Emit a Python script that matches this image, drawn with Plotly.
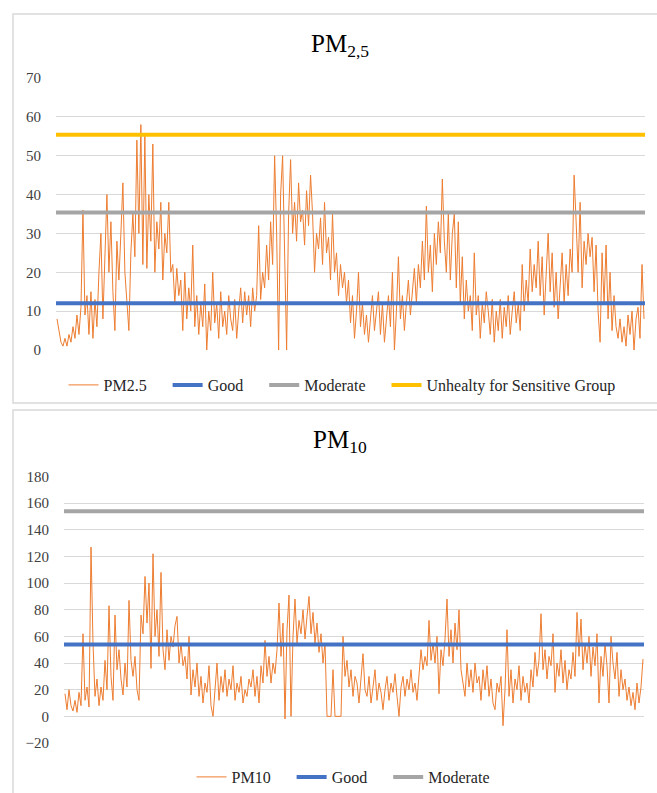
import plotly.graph_objects as go

# ---------------- data ----------------
pm25 = [
    8, 5, 2, 1, 3, 1, 4, 2, 6, 3, 9, 4, 11, 36, 9, 14, 4, 15, 3, 13,
    6, 20, 30, 8, 22, 40, 20, 33, 15, 5, 28, 18, 30, 43, 20, 12, 5, 25, 35, 24,
    54, 30, 58, 22, 55, 21, 40, 28, 53, 20, 33, 26, 38, 18, 30, 25, 38, 20, 22, 12,
    21, 14, 18, 5, 20, 8, 16, 10, 27, 6, 14, 4, 12, 6, 17, 0, 10, 5, 20, 7,
    12, 3, 15, 6, 10, 4, 14, 8, 5, 13, 3, 10, 16, 7, 15, 9, 14, 6, 16, 10,
    14, 32, 13, 20, 16, 27, 18, 33, 22, 50, 30, 0, 40, 50, 28, 0, 35, 49, 30, 38,
    28, 43, 33, 36, 27, 41, 32, 45, 35, 20, 30, 26, 34, 22, 38, 25, 29, 18, 35, 20,
    25, 14, 22, 16, 20, 12, 18, 7, 14, 3, 10, 20, 6, 12, 4, 9, 2, 8, 14, 5,
    10, 15, 4, 12, 2, 9, 14, 6, 20, 0, 10, 24, 8, 14, 5, 12, 18, 9, 15, 21,
    12, 22, 16, 28, 18, 37, 20, 27, 15, 30, 22, 33, 25, 44, 28, 20, 35, 18, 30, 35,
    16, 33, 12, 24, 8, 18, 10, 14, 5, 25, 9, 14, 3, 12, 7, 15, 10, 4, 13, 2,
    10, 5, 13, 3, 11, 6, 14, 4, 10, 15, 7, 12, 5, 22, 10, 18, 12, 26, 15, 22,
    16, 28, 14, 24, 9, 20, 30, 15, 25, 11, 20, 8, 17, 25, 12, 22, 14, 26, 20, 45,
    33, 20, 38, 16, 28, 22, 30, 24, 29, 15, 27, 10, 2, 25, 12, 27, 8, 20, 5, 14,
    6, 3, 8, 2, 6, 1, 9, 4, 10, 0, 8, 11, 3, 22, 8,
]

pm10 = [
    17, 5, 20, 8, 4, 12, 3, 18, 8, 62, 12, 22, 7, 127, 55, 15, 28, 8, 22, 12,
    42, 20, 83, 30, 12, 76, 35, 50, 28, 16, 40, 22, 87, 42, 30, 45, 20, 12, 76, 62,
    105, 70, 100, 36, 122, 60, 80, 45, 108, 50, 35, 65, 42, 60, 52, 68, 75, 40, 55, 38,
    45, 28, 60, 16, 35, 22, 40, 15, 30, 10, 25, 18, 38, 8, 0, 22, 40, 12, 30, 18,
    35, 15, 28, 20, 38, 12, 25, 18, 30, 10, 20, 15, 28, 22, 35, 15, 30, 10, 38, 25,
    57, 30, 45, 25, 40, 32, 50, 85, 45, 70, -2, 65, 91, 0, 60, 88, 55, 72, 62, 80,
    58, 75, 90, 62, 78, 55, 70, 48, 62, 40, 55, 0, 0, 0, 35, 0, 0, 0, 0, 60,
    30, 42, 22, 35, 15, 30, 25, 10, 28, 47, 20, 15, 30, 10, 22, 35, 12, 25, 18, 5,
    20, 30, 12, 25, 18, 32, 15, 0, 22, 30, 15, 28, 20, 35, 18, 25, 12, 30, 50, 35,
    45, 38, 72, 42, 55, 40, 60, 17, 50, 38, 58, 88, 45, 65, 40, 70, 50, 80, 35, 25,
    15, 40, 22, 35, 18, 40, 25, 30, 12, 35, 20, 38, 15, 28, 10, 5, 25, 18, 30, -7,
    20, 65, 15, 35, 10, 28, 20, 38, 12, 30, 18, 25, 10, 35, 22, 48, 30, 42, 77, 35,
    50, 28, 45, 38, 62, 18, 40, 30, 50, 25, 42, 20, 35, 28, 48, 30, 78, 45, 73, 35,
    55, 40, 60, 30, 52, 38, 62, 10, 45, 30, 55, 38, 10, 60, 40, 28, 48, 15, 35, 20,
    28, 12, 22, 8, 18, 5, 25, 10, 22, 43,
]

good_pm25 = 12.0
moderate_pm25 = 35.4
usg_pm25 = 55.4
good_pm10 = 54
moderate_pm10 = 154

yticks_pm25 = [0, 10, 20, 30, 40, 50, 60, 70]
yticks_pm10 = [-20, 0, 20, 40, 60, 80, 100, 120, 140, 160, 180]

# ---------------- styling ----------------
W, H = 657, 793
FONT = "Liberation Serif"
ORANGE = "#ED7D31"
BLUE = "#4472C4"
GRAY = "#A5A5A5"
YELLOW = "#FFC000"
GRID = "#D9D9D9"
PAD = "\u00a0" * 4  # spacing between legend entries


def px(x):
    return x / W


def py(y):
    return 1 - y / H


fig = go.Figure()

n1 = len(pm25)
x1 = list(range(n1))
fig.add_trace(go.Scatter(x=x1, y=pm25, mode="lines", name="PM2.5" + PAD,
                         line=dict(color=ORANGE, width=1),
                         xaxis="x", yaxis="y", legend="legend"))
for val, name, color in [(good_pm25, "Good" + PAD, BLUE),
                         (moderate_pm25, "Moderate" + PAD, GRAY),
                         (usg_pm25, "Unhealty for Sensitive Group", YELLOW)]:
    fig.add_trace(go.Scatter(x=[-0.5, n1 - 0.5], y=[val, val], mode="lines",
                             name=name, line=dict(color=color, width=4),
                             xaxis="x", yaxis="y", legend="legend"))

n2 = len(pm10)
x2 = list(range(n2))
fig.add_trace(go.Scatter(x=x2, y=pm10, mode="lines", name="PM10" + PAD,
                         line=dict(color=ORANGE, width=1),
                         xaxis="x2", yaxis="y2", legend="legend2"))
for val, name, color in [(good_pm10, "Good" + PAD, BLUE),
                         (moderate_pm10, "Moderate", GRAY)]:
    fig.add_trace(go.Scatter(x=[-0.5, n2 - 0.5], y=[val, val], mode="lines",
                             name=name, line=dict(color=color, width=4),
                             xaxis="x2", yaxis="y2", legend="legend2"))

tickfont = dict(family=FONT, size=15, color="#404040")
legfont = dict(family=FONT, size=16, color="#262626")

fig.update_layout(
    width=W, height=H, autosize=False,
    margin=dict(l=0, r=0, t=0, b=0, autoexpand=False),
    paper_bgcolor="white", plot_bgcolor="white",
    font=dict(family=FONT),
    xaxis=dict(domain=[px(56), px(645)], range=[-0.5, n1 - 0.5],
               showgrid=False, zeroline=False, showline=False,
               showticklabels=False, ticks="", anchor="y", automargin=False),
    yaxis=dict(domain=[py(350), py(78)], range=[0, 70], tickvals=yticks_pm25,
               showgrid=True, gridcolor=GRID, gridwidth=1, zeroline=False,
               showline=False, ticks="", tickfont=tickfont,
               ticklabelstandoff=14, anchor="x", automargin=False),
    xaxis2=dict(domain=[px(64), px(644)], range=[-0.5, n2 - 0.5],
                showgrid=False, zeroline=False, showline=False,
                showticklabels=False, ticks="", anchor="y2", automargin=False),
    yaxis2=dict(domain=[py(743), py(476.5)], range=[-20, 180],
                tickvals=yticks_pm10,
                showgrid=True, gridcolor=GRID, gridwidth=1, zeroline=False,
                showline=False, ticks="", tickfont=tickfont,
                ticklabelstandoff=14, anchor="x2", automargin=False),
    legend=dict(orientation="h", x=px(342), xanchor="center",
                y=py(385), yanchor="middle", font=legfont,
                bgcolor="rgba(0,0,0,0)", itemwidth=30, tracegroupgap=0),
    legend2=dict(orientation="h", x=px(343), xanchor="center",
                 y=py(777), yanchor="middle", font=legfont,
                 bgcolor="rgba(0,0,0,0)", itemwidth=30, tracegroupgap=0),
    showlegend=True,
    annotations=[
        dict(text="PM<sub>2,5</sub>", x=px(340), y=py(45), xref="paper",
             yref="paper", xanchor="center", yanchor="middle",
             showarrow=False, font=dict(family=FONT, size=25, color="#000000")),
        dict(text="PM<sub>10</sub>", x=px(340), y=py(442), xref="paper",
             yref="paper", xanchor="center", yanchor="middle",
             showarrow=False, font=dict(family=FONT, size=25, color="#000000")),
    ],
    shapes=[
        dict(type="rect", xref="paper", yref="paper",
             x0=px(13), x1=px(675), y0=py(403), y1=py(14),
             line=dict(color="#D9D9D9", width=1.5), fillcolor="rgba(0,0,0,0)",
             layer="below"),
        dict(type="rect", xref="paper", yref="paper",
             x0=px(13), x1=px(675), y0=py(800), y1=py(410),
             line=dict(color="#D9D9D9", width=1.5), fillcolor="rgba(0,0,0,0)",
             layer="below"),
    ],
)

fig.write_html(
    "out.html",
    config={"displayModeBar": False},
    post_script="document.body.style.margin='0';document.body.style.overflow='hidden';",
)
